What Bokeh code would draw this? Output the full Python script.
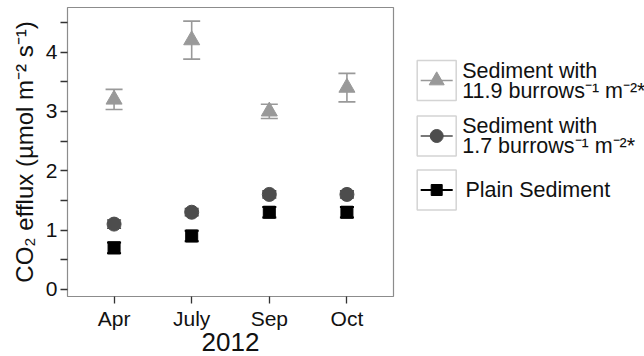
from bokeh.plotting import figure
from bokeh.layouts import row
from bokeh.models import Range1d, FixedTicker, Whisker, TeeHead, ColumnDataSource
from bokeh.core.properties import value
from bokeh.embed import file_html
from bokeh.resources import INLINE

# Sampling months (2012) and CO2 efflux means with standard errors
months = ["Apr", "July", "Sep", "Oct"]
month_pos = [1, 2, 3, 4]

high_burrow_mean = [3.2, 4.2, 3.0, 3.4]
high_burrow_se = [0.17, 0.32, 0.12, 0.24]

low_burrow_mean = [1.1, 1.3, 1.6, 1.6]
low_burrow_se = [0.07, 0.06, 0.06, 0.06]

plain_mean = [0.7, 0.9, 1.3, 1.3]
plain_se = [0.09, 0.09, 0.09, 0.09]

y_ticks = [0, 1, 2, 3, 4]
y_minor_ticks = [0.5, 1.5, 2.5, 3.5, 4.5]

legend_labels = [
    ["Sediment with", "11.9 burrows\u207b\u00b9 m\u207b\u00b2*"],
    ["Sediment with", "1.7 burrows\u207b\u00b9 m\u207b\u00b2*"],
    ["Plain Sediment"],
]

FONT = "Liberation Sans"
TEXT = "#111111"

series = [
    dict(mean=high_burrow_mean, se=high_burrow_se, color="#999999", marker="triangle", size=16, cap=17, lw=1.6),
    dict(mean=low_burrow_mean, se=low_burrow_se, color="#4d4d4d", marker="circle", size=14, cap=14, lw=1.6),
    dict(mean=plain_mean, se=plain_se, color="#000000", marker="square", size=12, cap=14, lw=2.0),
]

TOP, BOTTOM = 7, 60

p = figure(width=410, height=356, x_range=Range1d(0.4, 4.6), y_range=Range1d(-0.12, 4.75),
           toolbar_location=None, output_backend="svg",
           min_border_left=67, min_border_right=17, min_border_top=TOP, min_border_bottom=BOTTOM)
p.outline_line_color = "#8c8c8c"
p.outline_line_width = 1.2
p.grid.visible = False
p.background_fill_color = "white"

for s in series:
    src = ColumnDataSource(dict(
        x=month_pos, y=s["mean"],
        lower=[m - e for m, e in zip(s["mean"], s["se"])],
        upper=[m + e for m, e in zip(s["mean"], s["se"])],
    ))
    w = Whisker(base="x", lower="lower", upper="upper", source=src,
                line_color=s["color"], line_width=s["lw"],
                upper_head=TeeHead(size=s["cap"], line_color=s["color"], line_width=s["lw"]),
                lower_head=TeeHead(size=s["cap"], line_color=s["color"], line_width=s["lw"]))
    p.add_layout(w)
    p.scatter("x", "y", source=src, marker=s["marker"], size=s["size"],
              fill_color=s["color"], line_color=s["color"])

# x axis: months
p.xaxis.ticker = FixedTicker(ticks=month_pos)
p.xaxis.major_label_overrides = {pos: m for pos, m in zip(month_pos, months)}
p.xaxis.axis_label = "2012"
p.xaxis.axis_label_standoff = 0
p.xaxis.axis_label_text_font_size = "26px"
p.xaxis.axis_label_text_font_style = "normal"

# y axis
p.yaxis.ticker = FixedTicker(ticks=y_ticks, minor_ticks=y_minor_ticks)
p.yaxis.axis_label = "CO\u2082 efflux (\u00b5mol m\u207b\u00b2 s\u207b\u00b9)"
p.yaxis.axis_label_standoff = 5
p.yaxis.axis_label_text_font_size = "24px"
p.yaxis.axis_label_text_font_style = "normal"
p.yaxis.minor_tick_out = 7
p.yaxis.minor_tick_in = 0
p.yaxis.minor_tick_line_color = "#333333"
p.yaxis.minor_tick_line_width = 1.3

for ax in (p.xaxis, p.yaxis):
    ax.axis_line_color = None
    ax.major_tick_out = 7
    ax.major_tick_in = 0
    ax.major_tick_line_color = "#333333"
    ax.major_tick_line_width = 1.3
    ax.major_label_standoff = 3
    ax.major_label_text_font = FONT
    ax.major_label_text_font_size = "21px"
    ax.major_label_text_color = TEXT
    ax.axis_label_text_font = FONT
    ax.axis_label_text_color = TEXT

# legend panel: its frame shares the main frame's vertical extent,
# so the y range is given in page pixels (growing downward)
lg = figure(width=234, height=356, x_range=Range1d(0, 234), y_range=Range1d(356 - BOTTOM, TOP),
            toolbar_location=None, output_backend="svg",
            min_border_left=0, min_border_right=0, min_border_top=TOP, min_border_bottom=BOTTOM,
            x_axis_location=None, y_axis_location=None)
lg.outline_line_color = None
lg.grid.visible = False

key_y = [80, 135.5, 189.5]
key_x = 26.2
line_gap = 20
for s, ky, labels in zip(series, key_y, legend_labels):
    lg.rect(x=[key_x], y=[ky], width=39, height=40, fill_color="white",
            line_color="#d4d4d4", line_width=1.5)
    lg.segment(x0=[key_x - 16], y0=[ky], x1=[key_x + 16], y1=[ky],
               line_color=s["color"], line_width=s["lw"])
    lg.scatter(x=[key_x], y=[ky], marker=s["marker"], size=s["size"] - 1,
               fill_color=s["color"], line_color=s["color"])
    n = len(labels)
    tx = 51.7 if n > 1 else 55
    for i, lab in enumerate(labels):
        ty = ky - (n - 1) * line_gap / 2 + i * line_gap
        lg.text(x=[tx], y=[ty], text=[lab], text_font=value(FONT), text_font_size="21.5px",
                text_color=TEXT, text_baseline="middle", text_align="left")

layout = row(p, lg, spacing=0)
open("out.html", "w").write(file_html(layout, INLINE))
